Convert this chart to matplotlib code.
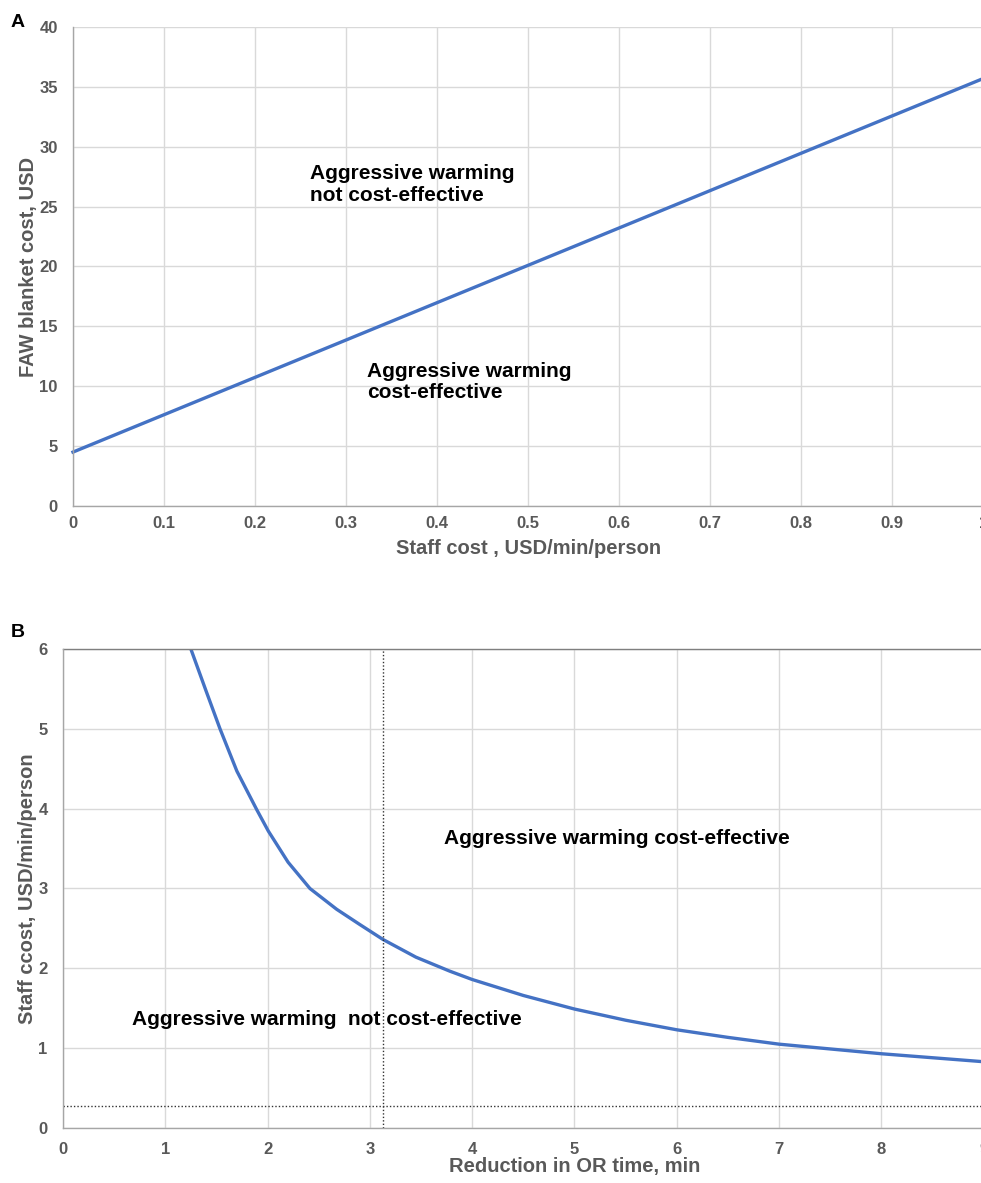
import matplotlib.pyplot as plt

plt.rcParams["font.family"] = ["Liberation Sans", "DejaVu Sans"]
plt.rcParams["font.weight"] = "bold"

# Panel A: break-even FAW blanket cost vs staff cost
a_staff_cost = [0.0, 1.0]
a_blanket_cost = [4.5, 35.7]

# Panel B: break-even staff cost vs reduction in OR time
b_or_time = [1.25, 1.40, 1.535, 1.70, 1.893, 2.007, 2.20, 2.414, 2.675, 2.90,
             3.13, 3.45, 3.78, 4.0, 4.5, 5.0, 5.5, 6.0, 6.5, 7.0, 7.5, 8.0,
             8.5, 9.0, 9.5, 10.0]
b_staff_cost = [6.00, 5.47, 5.00, 4.47, 3.99, 3.72, 3.33, 3.00, 2.74, 2.55,
                2.36, 2.14, 1.965, 1.86, 1.66, 1.49, 1.35, 1.23, 1.135, 1.05,
                0.99, 0.93, 0.88, 0.83, 0.79, 0.75]
b_ref_time = 3.13
b_ref_cost = 0.27

BLUE = "#4472C4"
GREY_TXT = "#595959"
GRID = "#d9d9d9"

fig = plt.figure(figsize=(9.81, 11.83), dpi=100)


def style(ax, xpad):
    ax.grid(True, color=GRID, lw=1.0)
    ax.set_axisbelow(True)
    for s in ("top", "right"):
        ax.spines[s].set_visible(False)
    for s in ("left", "bottom"):
        ax.spines[s].set_color("#a6a6a6")
        ax.spines[s].set_linewidth(1.0)
    ax.tick_params(length=0, labelsize=12, labelcolor=GREY_TXT)
    ax.tick_params(axis="x", pad=xpad)
    ax.tick_params(axis="y", pad=11)
    for lab in ax.get_xticklabels() + ax.get_yticklabels():
        lab.set_fontweight("bold")


# ---- Panel A
axA = fig.add_axes([0.0744, 0.5723, 0.928, 0.4049])
axA.plot(a_staff_cost, a_blanket_cost, color=BLUE, lw=2.4, clip_on=False)
axA.set_xlim(0, 1)
axA.set_ylim(0, 40)
axA.set_xticks([i / 10 for i in range(11)])
axA.set_xticklabels(["0"] + [f"{i/10:.1f}" for i in range(1, 10)] + ["1"])
axA.set_yticks(range(0, 41, 5))
style(axA, 7)
axA.set_xlabel("Staff cost , USD/min/person", fontsize=14.5, color=GREY_TXT,
               fontweight="bold", labelpad=6)
axA.set_ylabel("FAW blanket cost, USD", fontsize=14.5, color=GREY_TXT,
               fontweight="bold", labelpad=1)
axA.text(0.26, 26.85, "Aggressive warming\nnot cost-effective", fontsize=15,
         fontweight="bold", va="center", linespacing=1.15)
axA.text(0.323, 10.35, "Aggressive warming\ncost-effective", fontsize=15,
         fontweight="bold", va="center", linespacing=1.15)
fig.text(0.011, 0.9806, "A", fontsize=14, fontweight="bold", va="center")

# ---- Panel B
axB = fig.add_axes([0.0642, 0.0465, 1.0428, 0.4049])
axB.plot(b_or_time, b_staff_cost, color=BLUE, lw=2.4, solid_joinstyle="round")
axB.set_xlim(0, 10)
axB.set_ylim(0, 6)
axB.set_xticks(range(0, 11))
axB.set_yticks(range(0, 7))
style(axB, 10)
axB.axhline(6, color="#7f7f7f", lw=1.0, clip_on=False)
axB.axvline(b_ref_time, color="#333333", lw=1.0, ls=(0, (1, 1.5)))
axB.axhline(b_ref_cost, color="#333333", lw=1.0, ls=(0, (1, 1.5)))
axB.set_xlabel("Reduction in OR time, min", fontsize=14.5, color=GREY_TXT,
               fontweight="bold", labelpad=0)
axB.set_ylabel("Staff ccost, USD/min/person", fontsize=14.5, color=GREY_TXT,
               fontweight="bold", labelpad=1)
axB.text(3.72, 3.62, "Aggressive warming cost-effective", fontsize=15,
         fontweight="bold", va="center")
axB.text(0.67, 1.36, "Aggressive warming  not cost-effective", fontsize=15,
         fontweight="bold", va="center")
fig.text(0.011, 0.465, "B", fontsize=14, fontweight="bold", va="center")

fig.savefig("out.png", dpi=100)
